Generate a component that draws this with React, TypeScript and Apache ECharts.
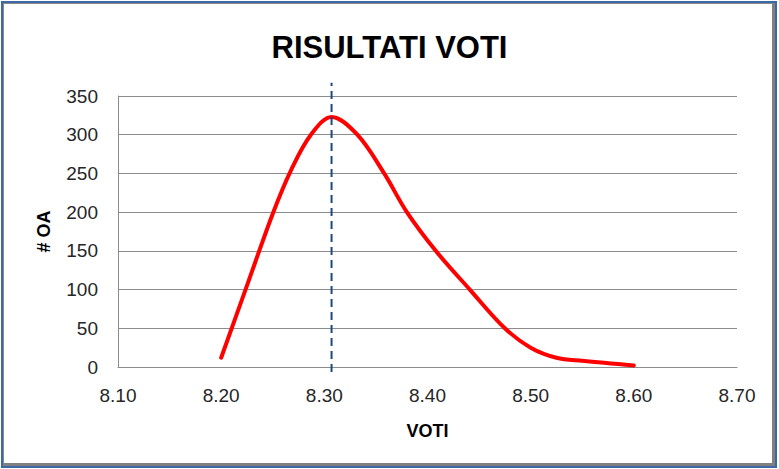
import React, { useEffect, useRef } from "react";
import * as echarts from "echarts";

const titleText = "RISULTATI VOTI";
const xAxisName = "VOTI";
const yAxisName = "# OA";
const votiX = [8.2, 8.225, 8.25, 8.268, 8.287, 8.307, 8.332, 8.358, 8.38, 8.408, 8.441, 8.475, 8.5, 8.525, 8.55, 8.6];
const oaY = [12, 105, 198, 255, 300, 323, 300, 250, 200, 150, 100, 50, 25, 12, 8, 2];
const peakVoto = 8.307;
const peakLineRange = [-6.5, 367];

export default function App() {
  const ref = useRef<HTMLDivElement>(null);
  useEffect(() => {
    if (!ref.current) return;
    const chart = echarts.init(ref.current, null, { renderer: "svg" });
    const font = "'Liberation Sans', Arial, sans-serif";
    chart.setOption({
      animation: false,
      backgroundColor: "#ffffff",
      title: {
        text: titleText,
        left: "center",
        top: 27,
        textStyle: { fontFamily: font, fontSize: 31, fontWeight: "bold", color: "#000000" },
      },
      grid: { left: 118, right: 42, top: 96, bottom: 102, containLabel: false },
      xAxis: {
        type: "value",
        min: 8.1,
        max: 8.7,
        interval: 0.1,
        name: xAxisName,
        nameLocation: "middle",
        nameGap: 55,
        nameTextStyle: { fontFamily: font, fontSize: 18, fontWeight: "bold", color: "#000000" },
        axisLine: { show: true, lineStyle: { color: "#8c8c8c", width: 1 } },
        axisTick: { show: false },
        splitLine: { show: false },
        axisLabel: {
          margin: 19,
          fontFamily: font,
          fontSize: 19,
          color: "#262626",
          formatter: (v: number) => v.toFixed(2),
        },
      },
      yAxis: {
        type: "value",
        min: 0,
        max: 350,
        interval: 50,
        name: yAxisName,
        nameLocation: "middle",
        nameRotate: 90,
        nameGap: 65,
        nameTextStyle: { fontFamily: font, fontSize: 18, fontWeight: "bold", color: "#000000" },
        axisLine: { show: true, lineStyle: { color: "#8c8c8c", width: 1 } },
        axisTick: { show: false },
        splitLine: { show: true, lineStyle: { color: "#8c8c8c", width: 1 } },
        axisLabel: { margin: 20, fontFamily: font, fontSize: 19, color: "#262626" },
      },
      series: [
        {
          type: "line",
          data: votiX.map((x, i) => [x, oaY[i]]),
          smooth: 0.35,
          showSymbol: false,
          symbol: "none",
          lineStyle: { color: "#ff0000", width: 4, cap: "round" },
          z: 2,
        },
        {
          type: "line",
          data: peakLineRange.map((y) => [peakVoto, y]),
          clip: false,
          symbol: "none",
          lineStyle: { color: "#1f497d", width: 2, type: [8, 5] },
          z: 3,
        },
      ],
    });
    return () => chart.dispose();
  }, []);

  return (
    <div style={{ position: "fixed", left: 0, top: 0, width: 779, height: 469, background: "#ffffff" }}>
      <div ref={ref} style={{ position: "absolute", left: 0, top: 0, width: 779, height: 469 }} />
      <div
        style={{
          position: "absolute",
          left: 1,
          top: 1,
          width: 776,
          height: 467,
          boxSizing: "border-box",
          border: "2px solid #3d68a6",
          pointerEvents: "none",
        }}
      >
        <div
          style={{
            position: "absolute",
            left: 0,
            top: 0,
            right: 0,
            bottom: 0,
            borderLeft: "1px solid #8a8a8a",
            borderTop: "1px solid #8a8a8a",
            borderRight: "3px solid #808080",
            borderBottom: "3px solid #808080",
          }}
        />
      </div>
    </div>
  );
}
